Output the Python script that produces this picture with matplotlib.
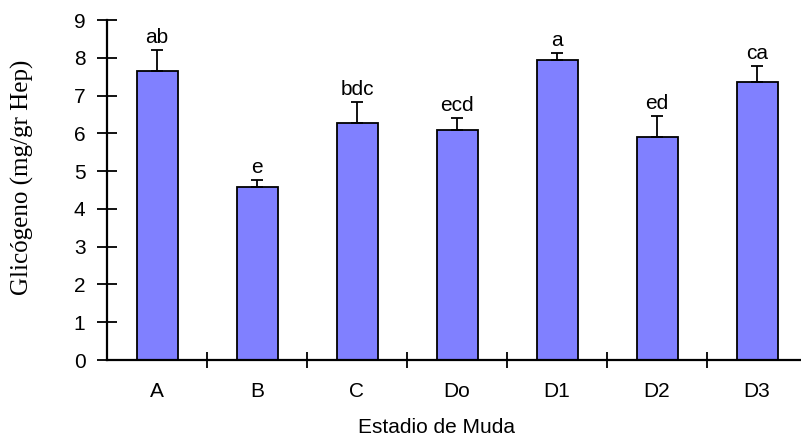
import matplotlib.pyplot as plt
import numpy as np
from matplotlib.ticker import MultipleLocator

stages = ["A", "B", "C", "Do", "D1", "D2", "D3"]
glycogen = [7.65, 4.57, 6.27, 6.08, 7.93, 5.90, 7.37]
sem = [0.56, 0.19, 0.57, 0.33, 0.19, 0.56, 0.41]
groups = ["ab", "e", "bdc", "ecd", "a", "ed", "ca"]

W, H = 801, 437
fig = plt.figure(figsize=(W / 100, H / 100), dpi=100)
ax = fig.add_axes([107 / W, 77 / H, 700 / W, 340 / H])

x = np.arange(len(stages)) + 0.5
ax.bar(x, glycogen, width=0.41, color="#8080ff", edgecolor="black",
       linewidth=1.3, zorder=2)
ax.errorbar(x, glycogen, yerr=[np.zeros(len(sem)), sem], fmt="none",
            ecolor="black", elinewidth=1.3, capsize=4.5, capthick=1.3, zorder=3)

# significance letters above each error bar
for xi, v, e, g in zip(x, glycogen, sem, groups):
    ax.annotate(g, (xi, v + e), xytext=(0, 5), textcoords="offset points",
                ha="center", va="baseline", fontsize=15,
                family="Liberation Sans")

ax.set_xlim(0, 7)
ax.set_ylim(0, 9)
ax.yaxis.set_major_locator(MultipleLocator(1))
ax.set_xticks(x)
ax.set_xticklabels(stages, family="Liberation Sans", fontsize=15)
ax.set_xticks(np.arange(1, 7), minor=True)
ax.tick_params(axis="x", which="major", length=0, pad=16)
ax.tick_params(axis="x", which="minor", direction="inout", length=12,
               width=1.3)
ax.tick_params(axis="y", direction="inout", length=15, width=1.3, pad=8)
for lab in ax.get_yticklabels():
    lab.set_family("Liberation Sans")
    lab.set_fontsize(15)

for side in ("top", "right"):
    ax.spines[side].set_visible(False)
for side in ("left", "bottom"):
    ax.spines[side].set_linewidth(1.6)

fig.text(436.5 / W, (H - 433) / H, "Estadio de Muda", ha="center",
         va="baseline", family="Liberation Sans", fontsize=15)
fig.text(22 / W, (H - 177) / H, "Glicógeno (mg/gr Hep)", rotation=90,
         ha="center", va="center", family="Liberation Serif", fontsize=18)

fig.savefig("out.png", dpi=100)
